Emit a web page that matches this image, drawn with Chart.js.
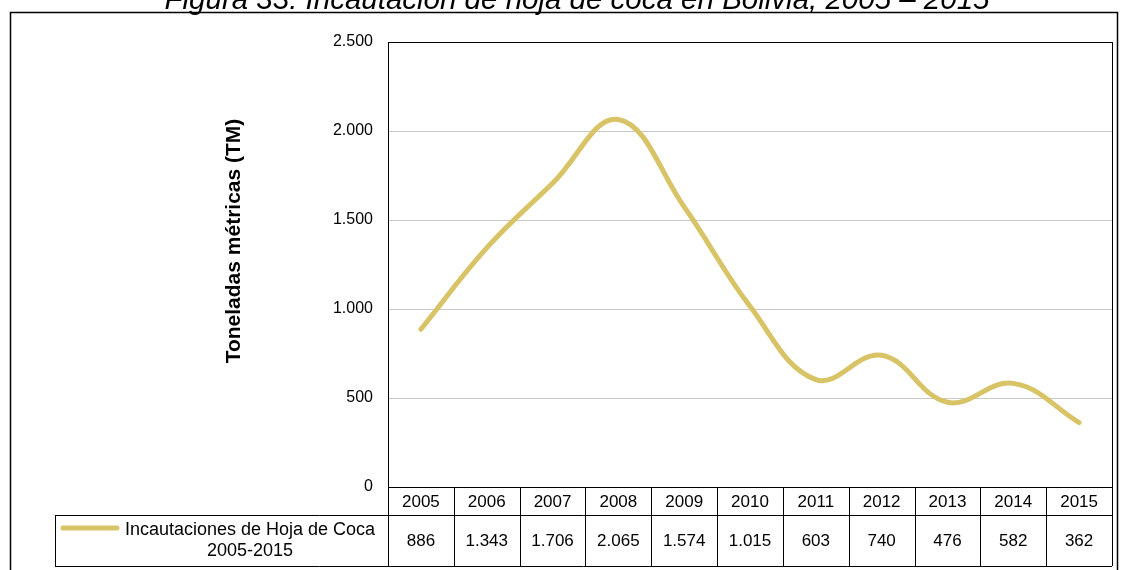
<!DOCTYPE html>
<html>
<head>
<meta charset="utf-8">
<script src="https://cdn.jsdelivr.net/npm/chart.js@4"></script>
<style>
  body { margin: 0; background: #fff; }
  canvas { display: block; }
</style>
</head>
<body>
<canvas id="myChart" width="1128" height="570"></canvas>
<script>
// datos
const years = ['2005', '2006', '2007', '2008', '2009', '2010', '2011', '2012', '2013', '2014', '2015'];
const seizures = [886, 1343, 1706, 2065, 1574, 1015, 603, 740, 476, 582, 362];
const yTicks = [0, 500, 1000, 1500, 2000, 2500];
const seriesName = ['Incautaciones de Hoja de Coca', '2005-2015'];
const titleText = 'Figura 33: Incautación de hoja de coca en Bolivia, 2005 – 2015';
const yTitle = 'Toneladas métricas (TM)';

const lineColor = '#D8C366';
const fontFamily = '"Liberation Sans", Arial, sans-serif';

// miles con punto
function fmt(n) {
    return n.toString().replace(/\B(?=(\d{3})+(?!\d))/g, '.');
}

const tablePlugin = {
    id: 'tablePlugin',
    afterDraw(chart) {
        const ctx = chart.ctx;
        const area = chart.chartArea;
        const xs = chart.scales.x;
        const row1 = area.bottom;
        const row2 = 515;
        const row3 = 566;
        const legendLeft = 55;
        const cellW = (area.right - area.left) / years.length;

        ctx.save();

        // titulo (cortado arriba)
        ctx.fillStyle = '#000';
        ctx.font = 'italic 29.5px ' + fontFamily;
        ctx.textAlign = 'center';
        ctx.textBaseline = 'alphabetic';
        ctx.fillText(titleText, 577, 9);

        // marco exterior
        ctx.strokeStyle = '#000';
        ctx.lineWidth = 1.5;
        ctx.strokeRect(10.5, 12.5, 1107, 570);

        // titulo eje y
        ctx.save();
        ctx.translate(234, 241);
        ctx.rotate(-Math.PI / 2);
        ctx.font = 'bold 21px ' + fontFamily;
        ctx.textAlign = 'center';
        ctx.textBaseline = 'middle';
        ctx.fillText(yTitle, 0, 0);
        ctx.restore();

        // borde del area del grafico
        ctx.lineWidth = 1;
        ctx.strokeRect(Math.round(area.left) + 0.5, Math.round(area.top) + 0.5,
            Math.round(area.right - area.left), Math.round(area.bottom - area.top));

        // lineas de la tabla
        ctx.beginPath();
        ctx.moveTo(legendLeft, row2 + 0.5);
        ctx.lineTo(area.right, row2 + 0.5);
        ctx.moveTo(legendLeft, row3 + 0.5);
        ctx.lineTo(area.right, row3 + 0.5);
        ctx.moveTo(legendLeft + 0.5, row2);
        ctx.lineTo(legendLeft + 0.5, row3);
        for (let i = 0; i <= years.length; i++) {
            const x = Math.round(area.left + i * cellW) + 0.5;
            ctx.moveTo(x, row1);
            ctx.lineTo(x, row3);
        }
        ctx.stroke();

        // textos de la tabla
        ctx.font = '17px ' + fontFamily;
        ctx.textAlign = 'center';
        ctx.textBaseline = 'middle';
        years.forEach((y, i) => {
            const x = xs.getPixelForValue(i);
            ctx.fillText(y, x, (row1 + row2) / 2 + 1);
            ctx.fillText(fmt(seizures[i]), x, (row2 + row3) / 2 + 1);
        });

        // leyenda
        ctx.strokeStyle = lineColor;
        ctx.lineWidth = 5;
        ctx.lineCap = 'round';
        ctx.beginPath();
        ctx.moveTo(63, 528);
        ctx.lineTo(117, 528);
        ctx.stroke();
        ctx.fillStyle = '#000';
        ctx.font = '18px ' + fontFamily;
        ctx.fillText(seriesName[0], 250, 530);
        ctx.fillText(seriesName[1], 250, 551);

        ctx.restore();
    }
};

const ctx = document.getElementById('myChart').getContext('2d');
new Chart(ctx, {
    type: 'line',
    data: {
        labels: years,
        datasets: [{
            label: seriesName.join(' '),
            data: seizures,
            borderColor: lineColor,
            backgroundColor: lineColor,
            borderWidth: 5,
            borderCapStyle: 'round',
            pointRadius: 0,
            tension: 0.4,
            fill: false
        }]
    },
    options: {
        responsive: false,
        animation: false,
        layout: {
            padding: { top: 42, right: 16, left: 0, bottom: 0 }
        },
        plugins: {
            legend: { display: false },
            tooltip: { enabled: false }
        },
        scales: {
            x: {
                offset: true,
                grid: { display: false },
                border: { display: false },
                ticks: { display: false },
                afterFit(scale) {
                    scale.height = 83;
                }
            },
            y: {
                min: 0,
                max: 2500,
                afterBuildTicks(scale) {
                    scale.ticks = yTicks.map(v => ({ value: v }));
                },
                grid: {
                    color: '#C8C8C8',
                    drawTicks: false
                },
                border: { display: false },
                ticks: {
                    padding: 15,
                    color: '#000',
                    font: { size: 16, family: fontFamily },
                    callback: (v) => fmt(v)
                },
                afterFit(scale) {
                    scale.width = 388;
                }
            }
        }
    },
    plugins: [tablePlugin]
});
</script>
</body>
</html>
